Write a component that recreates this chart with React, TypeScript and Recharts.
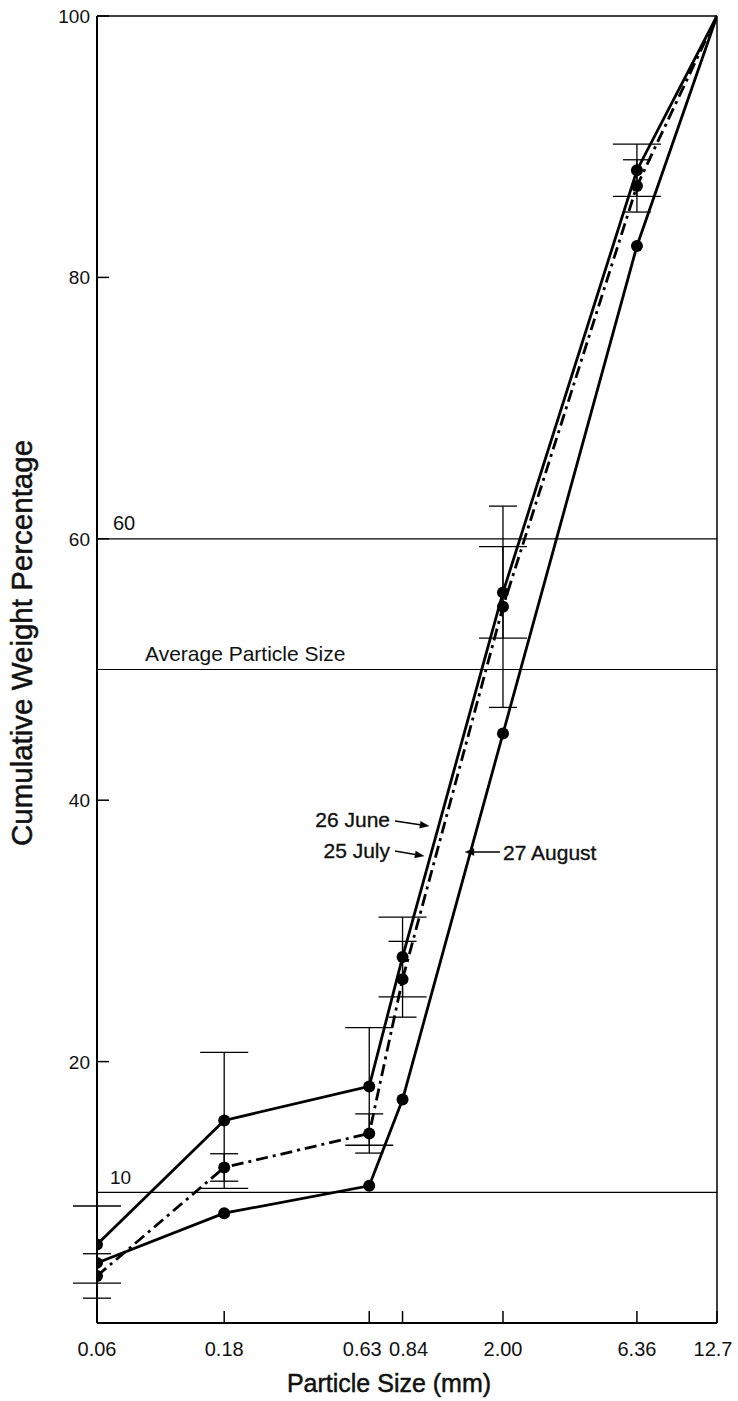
import {
  Customized,
  ErrorBar,
  Line,
  LineChart,
  ReferenceLine,
  XAxis,
  YAxis,
} from "recharts";

// particle sizes (mm) and cumulative weight % per sampling date
const sizes = [0.06, 0.18, 0.63, 0.84, 2.0, 6.36, 12.7];
const sizeLabels = ["0.06", "0.18", "0.63", "0.84", "2.00", "6.36", "12.7"];
const june = [6.0, 15.5, 18.1, 28.0, 55.9, 88.2, 100];
const july = [3.6, 11.9, 14.5, 26.3, 54.8, 87.0, 100];
const august = [4.6, 8.4, 10.5, 17.1, 45.1, 82.4, 100];
const juneErr = [2.95, 5.2, 4.5, 3.05, 3.5, 2.0, null];
const julyErr = [1.7, 1.05, 1.5, 2.9, 7.7, 2.0, null];
const yTicks = [20, 40, 60, 80, 100];

const data = sizes.map((size, i) => ({
  size,
  june: june[i],
  july: july[i],
  august: august[i],
  juneErr: juneErr[i],
  julyErr: julyErr[i],
}));

const FONT = "'Liberation Sans', Arial, sans-serif";

const YTick = ({ x, y, payload }: any) => (
  <g>
    <line x1={x + 7} x2={x + 19} y1={y} y2={y} stroke="#000" strokeWidth={1.5} />
    <text x={x} y={y + 7} textAnchor="end" fontSize={19} fontFamily={FONT} fill="#111">
      {payload.value}
    </text>
  </g>
);

// the two close ticks get their labels pushed apart a little
const XTick = ({ x, y, payload }: any) => {
  const i = sizes.indexOf(payload.value);
  const nudge = payload.value === 0.63 ? -7 : payload.value === 0.84 ? 6 : payload.value === 12.7 ? -4 : 0;
  return (
    <g>
      <line x1={x} x2={x} y1={y - 8} y2={y - 20} stroke="#000" strokeWidth={1.5} />
      <text x={x + nudge} y={y + 25} textAnchor="middle" fontSize={20} fontFamily={FONT} fill="#111">
        {i >= 0 ? sizeLabels[i] : payload.value}
      </text>
    </g>
  );
};

const RefText = ({ viewBox, text, dx, dy, size }: any) => (
  <text x={viewBox.x + dx} y={viewBox.y + dy} fontSize={size} fontFamily={FONT} fill="#111">
    {text}
  </text>
);

const dotFor = (key: string) => (props: any) => {
  const { cx, cy, index } = props;
  if (index === sizes.length - 1) return <g key={`${key}-${index}`} />;
  return <circle key={`${key}-${index}`} cx={cx} cy={cy} r={6} fill="#000" />;
};

const Arrow = ({ x1, y1, x2, y2 }: any) => {
  const a = Math.atan2(y2 - y1, x2 - x1);
  const len = 9;
  const w = 3.5;
  const bx = x2 - len * Math.cos(a);
  const by = y2 - len * Math.sin(a);
  const px = -Math.sin(a) * w;
  const py = Math.cos(a) * w;
  return (
    <g>
      <line x1={x1} y1={y1} x2={bx} y2={by} stroke="#000" strokeWidth={1.5} />
      <polygon points={`${x2},${y2} ${bx + px},${by + py} ${bx - px},${by - py}`} fill="#000" />
    </g>
  );
};

const Annotations = () => (
  <g fontFamily={FONT} fill="#111" stroke="#111" strokeWidth={0.35}>
    <text x={390} y={827} textAnchor="end" fontSize={21}>
      26 June
    </text>
    <Arrow x1={395} y1={821} x2={429} y2={826} />
    <text x={390} y={858} textAnchor="end" fontSize={21}>
      25 July
    </text>
    <Arrow x1={395} y1={851} x2={424} y2={856} />
    <text x={503} y={860} fontSize={21}>
      27 August
    </text>
    <Arrow x1={500} y1={852} x2={465} y2={852} />
    <text x={389} y={1392} textAnchor="middle" fontSize={25} strokeWidth={0.5}>
      Particle Size (mm)
    </text>
    <text
      x={32}
      y={643}
      textAnchor="middle"
      fontSize={29.5}
      strokeWidth={0.5}
      transform="rotate(-90 32 643)"
    >
      Cumulative Weight Percentage
    </text>
  </g>
);

export default function App() {
  return (
    <div style={{ position: "absolute", left: 0, top: 0, background: "#fff" }}>
      <LineChart
        width={738}
        height={1401}
        data={data}
        margin={{ top: 16, right: 21, bottom: 0, left: 0 }}
      >
        <XAxis
          dataKey="size"
          type="number"
          scale="log"
          domain={[0.06, 12.7]}
          ticks={sizes}
          interval={0}
          allowDataOverflow
          height={78}
          tickSize={0}
          tickMargin={8}
          tick={<XTick />}
          axisLine={{ stroke: "#000", strokeWidth: 2 }}
        />
        <YAxis
          type="number"
          domain={[0, 100]}
          ticks={yTicks}
          interval={0}
          width={97}
          tickSize={0}
          tickMargin={7}
          tick={<YTick />}
          axisLine={{ stroke: "#000", strokeWidth: 2 }}
        />
        <ReferenceLine y={100} stroke="#000" strokeWidth={1.5} />
        <ReferenceLine x={12.7} stroke="#000" strokeWidth={1.5} />
        <ReferenceLine
          y={60}
          stroke="#000"
          strokeWidth={1.2}
          label={<RefText text="60" dx={16} dy={-9} size={20} />}
        />
        <ReferenceLine
          y={50}
          stroke="#000"
          strokeWidth={1.2}
          label={<RefText text="Average Particle Size" dx={48} dy={-9} size={21} />}
        />
        <ReferenceLine
          y={10}
          stroke="#000"
          strokeWidth={1.2}
          label={<RefText text="10" dx={13} dy={-8} size={19} />}
        />
        <Line
          dataKey="june"
          stroke="#000"
          strokeWidth={2.8}
          dot={dotFor("june")}
          isAnimationActive={false}
        >
          <ErrorBar dataKey="juneErr" width={24} stroke="#000" strokeWidth={1.3} direction="y" />
        </Line>
        <Line
          dataKey="july"
          stroke="#000"
          strokeWidth={2.8}
          strokeDasharray="12 5 3 5"
          dot={dotFor("july")}
          isAnimationActive={false}
        >
          <ErrorBar dataKey="julyErr" width={14} stroke="#000" strokeWidth={1.3} direction="y" />
        </Line>
        <Line
          dataKey="august"
          stroke="#000"
          strokeWidth={2.8}
          dot={dotFor("august")}
          isAnimationActive={false}
        />
        <Customized component={Annotations} />
      </LineChart>
    </div>
  );
}
